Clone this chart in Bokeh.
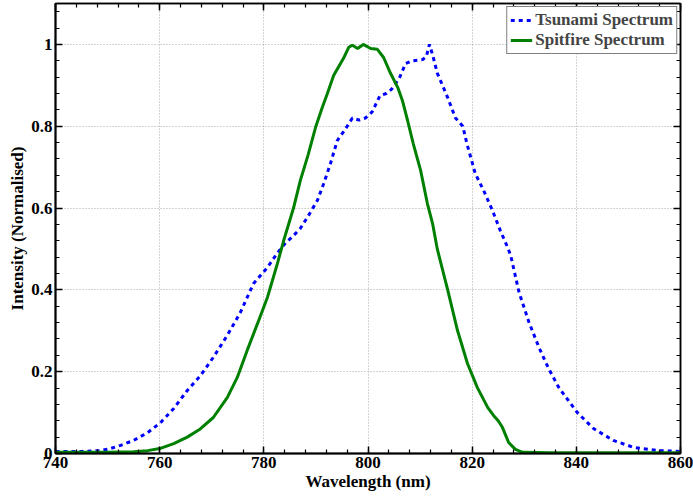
from bokeh.plotting import figure
from bokeh.models import Range1d, LinearAxis, FixedTicker, Legend, LegendItem
from bokeh.embed import file_html
from bokeh.resources import INLINE

# ---- data ----
tsunami_x = [740, 745, 748.6, 750.5, 752.5, 755, 757.7, 760.2, 762.7, 765.3, 767.8, 770.3,
             773, 775.5, 778, 780.7, 782.6, 784.2, 785.5, 787, 788.4, 790.3, 791.5, 792.8,
             794.1, 795.5, 797, 798.3, 799.5, 800.8, 802.3, 803.5, 804.5, 806, 807.2, 808.5,
             810.5, 811.2, 811.8, 812.5, 813.3, 815.3, 816.8, 818.2, 819, 820.6, 822.2, 823.9,
             825.4, 826.8, 827.4, 829.0, 830.9, 832.8, 834.7, 836.6, 838.9, 840.2, 843.3,
             847.1, 851, 856, 860]
tsunami_y = [0.005, 0.005, 0.007, 0.012, 0.02, 0.032, 0.051, 0.076, 0.11, 0.154, 0.19, 0.235,
             0.289, 0.345, 0.415, 0.455, 0.49, 0.515, 0.53, 0.55, 0.578, 0.619, 0.66, 0.709,
             0.765, 0.79, 0.82, 0.815, 0.82, 0.835, 0.875, 0.88, 0.89, 0.917, 0.953, 0.96,
             0.963, 0.97, 1.0, 0.97, 0.93, 0.87, 0.82, 0.80, 0.757, 0.684, 0.643, 0.594,
             0.545, 0.504, 0.484, 0.394, 0.321, 0.26, 0.207, 0.162, 0.122, 0.10, 0.061,
             0.032, 0.015, 0.007, 0.005]

spitfire_x = [740, 750, 755, 757.7, 760, 762.7, 765.3, 767.8, 770.3, 773, 774.9, 776.8, 778.8,
              780.7, 782.6, 783.8, 785.7, 787, 788.5, 790, 791.2, 792.2, 793.4, 795.3, 796.3,
              797, 798, 799.1, 800.5, 801.8, 803, 804.3, 805.7, 806.6, 807.6, 808.7, 810.1,
              811.4, 812.4, 813.3, 815.3, 817.2, 819.1, 821, 823, 824.1, 825, 825.8, 827,
              828.3, 829.7, 835, 845, 860]
spitfire_y = [0.003, 0.003, 0.004, 0.007, 0.012, 0.024, 0.04, 0.06, 0.088, 0.137, 0.186, 0.252,
              0.318, 0.382, 0.464, 0.52, 0.60, 0.667, 0.73, 0.80, 0.845, 0.88, 0.924, 0.966,
              0.993, 0.998, 0.99, 1.0, 0.99, 0.988, 0.968, 0.93, 0.895, 0.863, 0.814, 0.757,
              0.692, 0.611, 0.562, 0.50, 0.40, 0.30, 0.22, 0.161, 0.112, 0.093, 0.08, 0.064,
              0.027, 0.01, 0.003, 0.002, 0.002, 0.002]

x_ticks = [740, 760, 780, 800, 820, 840, 860]
x_minor = [740 + 4 * i for i in range(31)]
y_ticks = [0, 0.2, 0.4, 0.6, 0.8, 1.0]
y_tick_labels = ["0", "0.2", "0.4", "0.6", "0.8", "1"]
y_minor = [round(0.04 * i, 2) for i in range(28)]

series_names = ["Tsunami Spectrum", "Spitfire Spectrum"]
x_label = "Wavelength (nm)"
y_label = "Intensity (Normalised)"

FONT = "Liberation Serif"
FS = "17px"

p = figure(width=693, height=496, output_backend="svg", toolbar_location=None,
           x_range=Range1d(740, 860), y_range=Range1d(0, 1.1),
           min_border_left=55, min_border_right=13, min_border_top=3, min_border_bottom=43)
p.background_fill_color = "white"
p.border_fill_color = "white"
p.outline_line_color = "black"
p.outline_line_width = 1.5

xt = FixedTicker(ticks=x_ticks, minor_ticks=x_minor)
yt = FixedTicker(ticks=y_ticks, minor_ticks=y_minor)

p.xaxis.ticker = xt
p.yaxis.ticker = yt
p.yaxis.major_label_overrides = {t: l for t, l in zip(y_ticks, y_tick_labels)}

for ax in [p.xaxis[0], p.yaxis[0]]:
    ax.major_tick_in = 7
    ax.major_tick_out = 0
    ax.minor_tick_in = 4
    ax.minor_tick_out = 0
    ax.axis_line_width = 2
    ax.major_tick_line_width = 1.5
    ax.minor_tick_line_width = 1.2
    ax.major_label_text_font = FONT
    ax.major_label_text_font_style = "bold"
    ax.major_label_text_font_size = FS
    ax.major_label_text_color = "black"
    ax.axis_label_text_font = FONT
    ax.axis_label_text_font_style = "bold"
    ax.axis_label_text_font_size = FS
    ax.axis_label_text_color = "black"

p.xaxis.axis_label = x_label
p.yaxis.axis_label = y_label
p.xaxis.major_label_standoff = 3
p.xaxis.axis_label_standoff = 1
p.yaxis.major_label_standoff = 3
p.yaxis.axis_label_standoff = 1

# mirrored axes (top/right) with ticks only, no labels drawn
for loc, tick in [("above", xt), ("right", yt)]:
    ax = LinearAxis(ticker=tick, major_label_text_font_size="0px", major_label_standoff=0,
                    major_label_text_color=None,
                    major_tick_in=7, major_tick_out=0, minor_tick_in=4, minor_tick_out=0,
                    axis_line_width=1.5, major_tick_line_width=1.5, minor_tick_line_width=1.2)
    p.add_layout(ax, loc)

p.xgrid.ticker = xt
p.ygrid.ticker = yt
for g in [p.xgrid[0], p.ygrid[0]]:
    g.grid_line_color = "#a8a8a8"
    g.grid_line_dash = "1 2"
    g.grid_line_width = 1

r1 = p.line(tsunami_x, tsunami_y, line_color="#0000ff", line_width=3, line_dash="4 4")
r2 = p.line(spitfire_x, spitfire_y, line_color="#008000", line_width=3)

legend = Legend(items=[LegendItem(label=series_names[0], renderers=[r1]),
                       LegendItem(label=series_names[1], renderers=[r2])],
                location="top_right", margin=3, padding=3, spacing=0,
                label_text_font=FONT, label_text_font_style="bold", label_text_font_size=FS,
                label_height=18, glyph_height=18, glyph_width=22, label_standoff=3,
                border_line_color="black", border_line_width=1.5,
                background_fill_alpha=1.0)
p.add_layout(legend)

open("out.html", "w").write(file_html(p, INLINE))
